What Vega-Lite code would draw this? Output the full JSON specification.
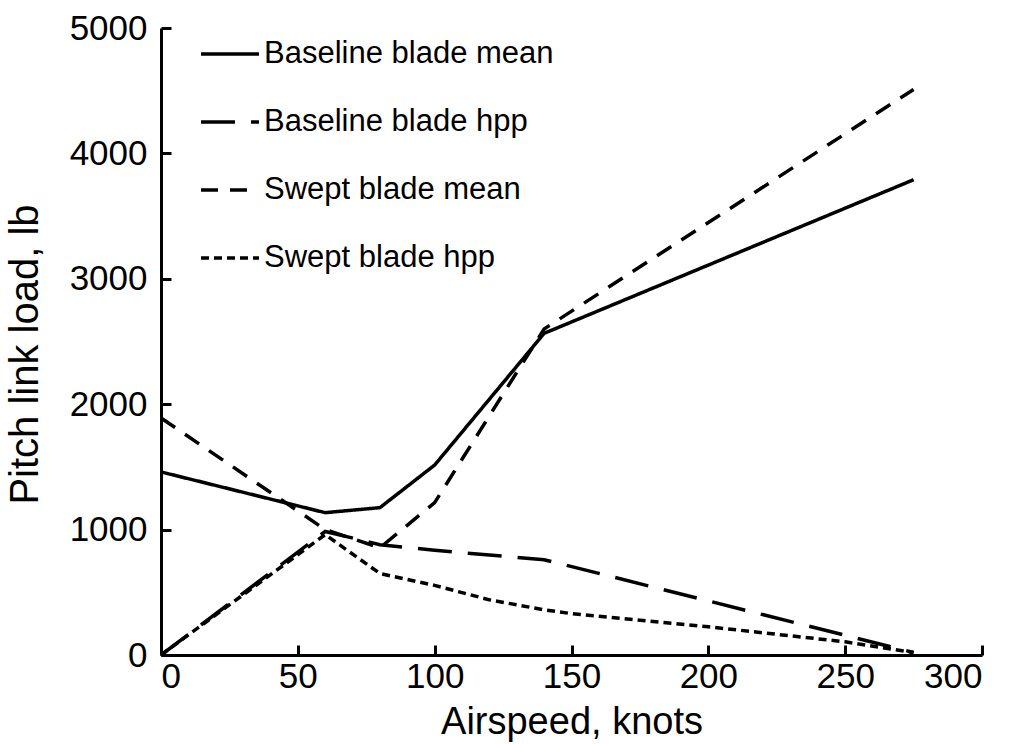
{
  "$schema": "https://vega.github.io/schema/vega-lite/v6.json",
  "width": 821,
  "height": 627,
  "autosize": {"type": "none"},
  "padding": {"left": 161, "top": 28, "right": 34, "bottom": 89},
  "background": "white",
  "config": {
    "view": {"stroke": null},
    "font": "Liberation Sans",
    "axis": {
      "domainColor": "black", "domainWidth": 3, "tickColor": "black", "tickWidth": 3,
      "tickSize": -10, "grid": false, "labelColor": "black", "titleColor": "black",
      "labelFont": "Liberation Sans", "titleFont": "Liberation Sans",
      "labelFontSize": 35, "titleFontWeight": "normal", "format": "d"
    }
  },
  "data": {
    "values": [
      {"series": "Baseline blade mean", "speed": 0, "load": 1460},
      {"series": "Baseline blade mean", "speed": 60, "load": 1135},
      {"series": "Baseline blade mean", "speed": 80, "load": 1175},
      {"series": "Baseline blade mean", "speed": 100, "load": 1515},
      {"series": "Baseline blade mean", "speed": 140, "load": 2565},
      {"series": "Baseline blade mean", "speed": 275, "load": 3790},
      {"series": "Baseline blade hpp", "speed": 0, "load": 0},
      {"series": "Baseline blade hpp", "speed": 60, "load": 985},
      {"series": "Baseline blade hpp", "speed": 80, "load": 880},
      {"series": "Baseline blade hpp", "speed": 100, "load": 835},
      {"series": "Baseline blade hpp", "speed": 140, "load": 760},
      {"series": "Baseline blade hpp", "speed": 275, "load": 20},
      {"series": "Swept blade mean", "speed": 0, "load": 1890},
      {"series": "Swept blade mean", "speed": 60, "load": 1000},
      {"series": "Swept blade mean", "speed": 80, "load": 855},
      {"series": "Swept blade mean", "speed": 100, "load": 1215},
      {"series": "Swept blade mean", "speed": 140, "load": 2600},
      {"series": "Swept blade mean", "speed": 275, "load": 4510},
      {"series": "Swept blade hpp", "speed": 0, "load": 0},
      {"series": "Swept blade hpp", "speed": 60, "load": 960},
      {"series": "Swept blade hpp", "speed": 80, "load": 650},
      {"series": "Swept blade hpp", "speed": 100, "load": 555},
      {"series": "Swept blade hpp", "speed": 120, "load": 440},
      {"series": "Swept blade hpp", "speed": 140, "load": 360},
      {"series": "Swept blade hpp", "speed": 150, "load": 330},
      {"series": "Swept blade hpp", "speed": 200, "load": 225},
      {"series": "Swept blade hpp", "speed": 250, "load": 105},
      {"series": "Swept blade hpp", "speed": 275, "load": 20}
    ]
  },
  "mark": {"type": "line", "color": "black", "strokeWidth": 3.5, "clip": false},
  "encoding": {
    "x": {
      "field": "speed", "type": "quantitative",
      "scale": {"domain": [0, 300], "nice": false, "zero": false},
      "axis": {"title": "Airspeed, knots", "titleFontSize": 38, "values": [0, 50, 100, 150, 200, 250, 300], "labelPadding": 14, "titlePadding": 9}
    },
    "y": {
      "field": "load", "type": "quantitative",
      "scale": {"domain": [0, 5000], "nice": false},
      "axis": {"title": "Pitch link load, lb", "titleFontSize": 40, "titleY": 326, "values": [0, 1000, 2000, 3000, 4000, 5000], "labelPadding": 24, "titlePadding": 24}
    },
    "strokeDash": {
      "field": "series", "type": "nominal",
      "scale": {
        "domain": ["Baseline blade mean", "Baseline blade hpp", "Swept blade mean", "Swept blade hpp"],
        "range": [[1, 0], [34, 16], [17, 12], [8, 5]]
      },
      "legend": {
        "title": null, "orient": "none", "legendX": 38, "legendY": -5, "padding": 0,
        "symbolType": "stroke", "symbolSize": 3364, "symbolStrokeWidth": 3.5, "symbolStrokeColor": "black",
        "labelFontSize": 31, "labelFont": "Liberation Sans", "labelColor": "black", "labelOffset": 3,
        "rowPadding": 22, "labelLimit": 500
      }
    },
    "order": {"field": "speed", "type": "quantitative"}
  }
}
